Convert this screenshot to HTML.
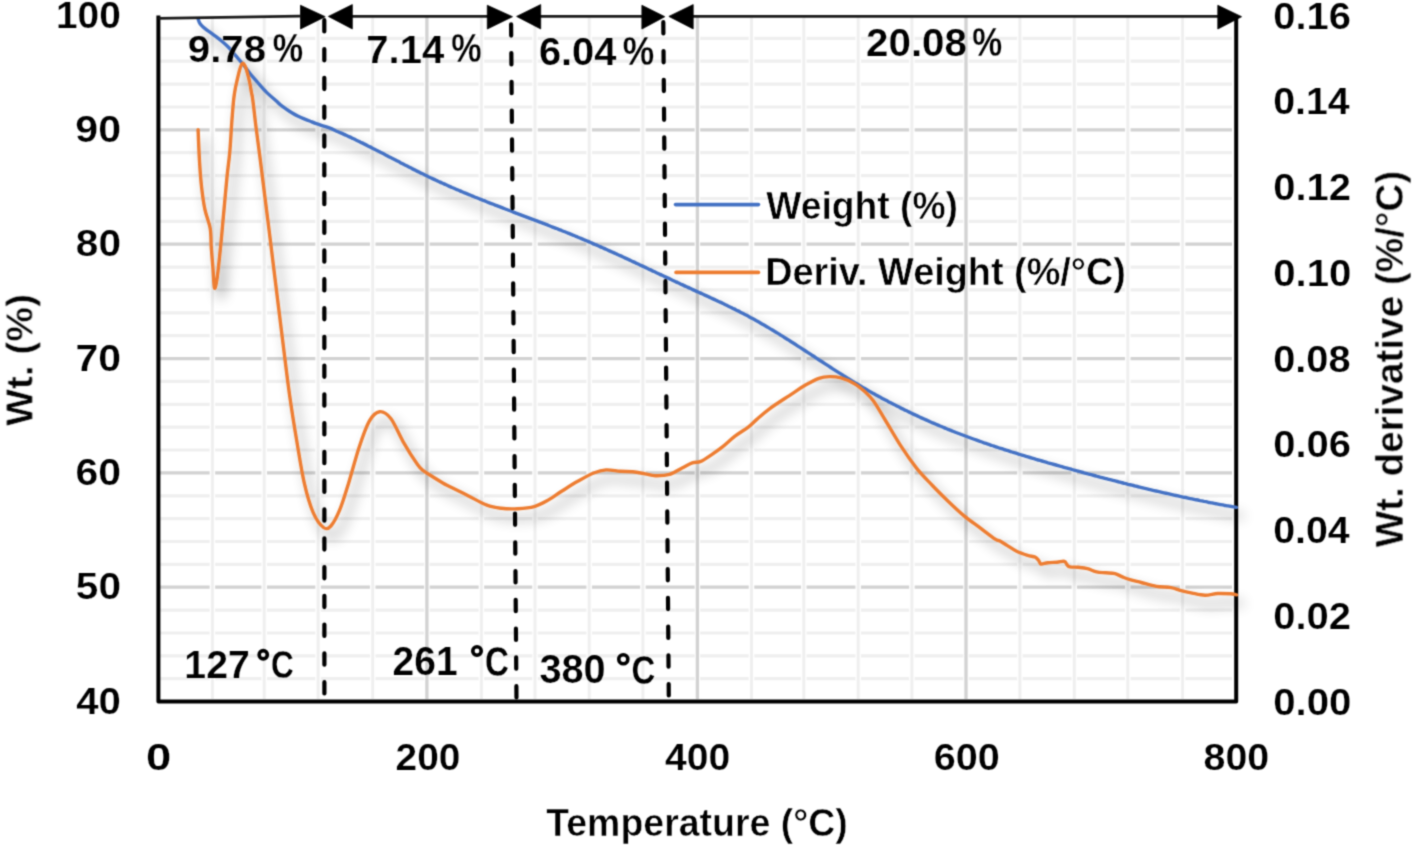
<!DOCTYPE html>
<html><head><meta charset="utf-8"><style>html,body{margin:0;padding:0;background:#fff;overflow:hidden}svg{display:block}</style></head>
<body>
<svg width="1413" height="846" viewBox="0 0 1413 846">
<defs>
<filter id="sh" x="-5%" y="-5%" width="112%" height="118%">
<feGaussianBlur in="SourceAlpha" stdDeviation="6.5"/>
<feOffset dx="6" dy="9" result="o"/>
<feComponentTransfer><feFuncA type="linear" slope="0.42"/></feComponentTransfer>
<feMerge><feMergeNode/><feMergeNode in="SourceGraphic"/></feMerge>
</filter>
<filter id="gb" x="0" y="0" width="1413" height="846" filterUnits="userSpaceOnUse" color-interpolation-filters="sRGB"><feConvolveMatrix order="3" kernelMatrix="0.03607 0.11778 0.03607 0.11778 0.38462 0.11778 0.03607 0.11778 0.03607" divisor="1" edgeMode="duplicate"/></filter>
</defs>
<rect width="1413" height="846" fill="#fff"/>
<g filter="url(#gb)">
<line x1="160" y1="678.7" x2="1232" y2="678.7" stroke="#efefef" stroke-width="3.2"/>
<line x1="160" y1="655.9" x2="1232" y2="655.9" stroke="#efefef" stroke-width="3.2"/>
<line x1="160" y1="633.0" x2="1232" y2="633.0" stroke="#efefef" stroke-width="3.2"/>
<line x1="160" y1="610.1" x2="1232" y2="610.1" stroke="#efefef" stroke-width="3.2"/>
<line x1="160" y1="564.4" x2="1232" y2="564.4" stroke="#efefef" stroke-width="3.2"/>
<line x1="160" y1="541.5" x2="1232" y2="541.5" stroke="#efefef" stroke-width="3.2"/>
<line x1="160" y1="518.6" x2="1232" y2="518.6" stroke="#efefef" stroke-width="3.2"/>
<line x1="160" y1="495.8" x2="1232" y2="495.8" stroke="#efefef" stroke-width="3.2"/>
<line x1="160" y1="450.0" x2="1232" y2="450.0" stroke="#efefef" stroke-width="3.2"/>
<line x1="160" y1="427.2" x2="1232" y2="427.2" stroke="#efefef" stroke-width="3.2"/>
<line x1="160" y1="404.3" x2="1232" y2="404.3" stroke="#efefef" stroke-width="3.2"/>
<line x1="160" y1="381.4" x2="1232" y2="381.4" stroke="#efefef" stroke-width="3.2"/>
<line x1="160" y1="335.7" x2="1232" y2="335.7" stroke="#efefef" stroke-width="3.2"/>
<line x1="160" y1="312.8" x2="1232" y2="312.8" stroke="#efefef" stroke-width="3.2"/>
<line x1="160" y1="289.9" x2="1232" y2="289.9" stroke="#efefef" stroke-width="3.2"/>
<line x1="160" y1="267.1" x2="1232" y2="267.1" stroke="#efefef" stroke-width="3.2"/>
<line x1="160" y1="221.3" x2="1232" y2="221.3" stroke="#efefef" stroke-width="3.2"/>
<line x1="160" y1="198.5" x2="1232" y2="198.5" stroke="#efefef" stroke-width="3.2"/>
<line x1="160" y1="175.6" x2="1232" y2="175.6" stroke="#efefef" stroke-width="3.2"/>
<line x1="160" y1="152.7" x2="1232" y2="152.7" stroke="#efefef" stroke-width="3.2"/>
<line x1="160" y1="107.0" x2="1232" y2="107.0" stroke="#efefef" stroke-width="3.2"/>
<line x1="160" y1="84.1" x2="1232" y2="84.1" stroke="#efefef" stroke-width="3.2"/>
<line x1="160" y1="61.2" x2="1232" y2="61.2" stroke="#efefef" stroke-width="3.2"/>
<line x1="160" y1="38.4" x2="1232" y2="38.4" stroke="#efefef" stroke-width="3.2"/>
<line x1="160" y1="587.2" x2="1232" y2="587.2" stroke="#d2d2d2" stroke-width="3.3"/>
<line x1="160" y1="472.9" x2="1232" y2="472.9" stroke="#d2d2d2" stroke-width="3.3"/>
<line x1="160" y1="358.6" x2="1232" y2="358.6" stroke="#d2d2d2" stroke-width="3.3"/>
<line x1="160" y1="244.2" x2="1232" y2="244.2" stroke="#d2d2d2" stroke-width="3.3"/>
<line x1="160" y1="129.9" x2="1232" y2="129.9" stroke="#d2d2d2" stroke-width="3.3"/>
<line x1="212.4" y1="18" x2="212.4" y2="698" stroke="#fff" stroke-width="5.5"/>
<line x1="212.4" y1="17" x2="212.4" y2="699" stroke="#efefef" stroke-width="3"/>
<line x1="264.2" y1="18" x2="264.2" y2="698" stroke="#fff" stroke-width="5.5"/>
<line x1="264.2" y1="17" x2="264.2" y2="699" stroke="#efefef" stroke-width="3"/>
<line x1="318.1" y1="18" x2="318.1" y2="698" stroke="#fff" stroke-width="5.5"/>
<line x1="318.1" y1="17" x2="318.1" y2="699" stroke="#efefef" stroke-width="3"/>
<line x1="372.7" y1="18" x2="372.7" y2="698" stroke="#fff" stroke-width="5.5"/>
<line x1="372.7" y1="17" x2="372.7" y2="699" stroke="#efefef" stroke-width="3"/>
<line x1="426.9" y1="18" x2="426.9" y2="698" stroke="#fff" stroke-width="5.5"/>
<line x1="426.9" y1="17" x2="426.9" y2="699" stroke="#d2d2d2" stroke-width="3.3"/>
<line x1="481.4" y1="18" x2="481.4" y2="698" stroke="#fff" stroke-width="5.5"/>
<line x1="481.4" y1="17" x2="481.4" y2="699" stroke="#efefef" stroke-width="3"/>
<line x1="535.0" y1="18" x2="535.0" y2="698" stroke="#fff" stroke-width="5.5"/>
<line x1="535.0" y1="17" x2="535.0" y2="699" stroke="#efefef" stroke-width="3"/>
<line x1="589.2" y1="18" x2="589.2" y2="698" stroke="#fff" stroke-width="5.5"/>
<line x1="589.2" y1="17" x2="589.2" y2="699" stroke="#efefef" stroke-width="3"/>
<line x1="642.9" y1="18" x2="642.9" y2="698" stroke="#fff" stroke-width="5.5"/>
<line x1="642.9" y1="17" x2="642.9" y2="699" stroke="#efefef" stroke-width="3"/>
<line x1="697.4" y1="18" x2="697.4" y2="698" stroke="#fff" stroke-width="5.5"/>
<line x1="697.4" y1="17" x2="697.4" y2="699" stroke="#d2d2d2" stroke-width="3.3"/>
<line x1="751.5" y1="18" x2="751.5" y2="698" stroke="#fff" stroke-width="5.5"/>
<line x1="751.5" y1="17" x2="751.5" y2="699" stroke="#efefef" stroke-width="3"/>
<line x1="803.8" y1="18" x2="803.8" y2="698" stroke="#fff" stroke-width="5.5"/>
<line x1="803.8" y1="17" x2="803.8" y2="699" stroke="#efefef" stroke-width="3"/>
<line x1="858.2" y1="18" x2="858.2" y2="698" stroke="#fff" stroke-width="5.5"/>
<line x1="858.2" y1="17" x2="858.2" y2="699" stroke="#efefef" stroke-width="3"/>
<line x1="911.9" y1="18" x2="911.9" y2="698" stroke="#fff" stroke-width="5.5"/>
<line x1="911.9" y1="17" x2="911.9" y2="699" stroke="#efefef" stroke-width="3"/>
<line x1="966.0" y1="18" x2="966.0" y2="698" stroke="#fff" stroke-width="5.5"/>
<line x1="966.0" y1="17" x2="966.0" y2="699" stroke="#d2d2d2" stroke-width="3.3"/>
<line x1="1019.9" y1="18" x2="1019.9" y2="698" stroke="#fff" stroke-width="5.5"/>
<line x1="1019.9" y1="17" x2="1019.9" y2="699" stroke="#efefef" stroke-width="3"/>
<line x1="1074.3" y1="18" x2="1074.3" y2="698" stroke="#fff" stroke-width="5.5"/>
<line x1="1074.3" y1="17" x2="1074.3" y2="699" stroke="#efefef" stroke-width="3"/>
<line x1="1127.8" y1="18" x2="1127.8" y2="698" stroke="#fff" stroke-width="5.5"/>
<line x1="1127.8" y1="17" x2="1127.8" y2="699" stroke="#efefef" stroke-width="3"/>
<line x1="1182.6" y1="18" x2="1182.6" y2="698" stroke="#fff" stroke-width="5.5"/>
<line x1="1182.6" y1="17" x2="1182.6" y2="699" stroke="#efefef" stroke-width="3"/>
<path d="M158.4,15.5 V701.6 H1236.2 V17" fill="none" stroke="#000" stroke-width="4" stroke-linejoin="round"/>
<g filter="url(#sh)" fill="none" stroke-width="3.4" stroke-linejoin="round" stroke-linecap="round">
<path d="M198.3,19.5 C198.5,20.0 198.9,21.4 199.4,22.4 C199.9,23.4 200.5,24.3 201.5,25.4 C202.5,26.5 203.4,27.3 205.4,28.9 C207.4,30.5 210.8,32.7 213.6,34.8 C216.3,36.9 219.3,39.1 221.9,41.3 C224.5,43.5 226.6,45.3 229.0,47.8 C231.4,50.3 233.9,53.6 236.1,56.1 C238.3,58.6 239.7,60.1 242.0,63.0 C244.3,65.9 247.4,70.2 250.0,73.5 C252.6,76.8 254.9,79.3 257.7,82.5 C260.5,85.7 263.6,89.5 266.6,92.4 C269.6,95.4 273.3,98.2 275.5,100.2 C277.7,102.2 278.3,103.0 280.0,104.5 C281.7,106.0 283.9,107.5 285.9,108.9 C287.9,110.3 289.8,111.5 291.8,112.7 C293.8,113.9 295.7,115.0 297.7,116.0 C299.7,117.0 301.6,117.8 303.6,118.6 C305.6,119.4 307.6,120.2 309.6,121.0 C311.6,121.8 313.5,122.7 315.5,123.4 C317.5,124.1 319.0,124.6 321.4,125.4 C323.8,126.2 327.6,127.2 330.0,128.1 C332.4,129.0 334.3,130.2 336.0,131.0 C337.7,131.7 338.7,132.1 340.0,132.7 C341.3,133.2 342.7,133.8 344.0,134.4 C345.3,135.0 346.7,135.6 348.0,136.2 C349.3,136.8 350.7,137.4 352.0,138.1 C353.3,138.7 354.7,139.3 356.0,140.0 C357.3,140.6 358.7,141.3 360.0,141.9 C361.3,142.6 362.7,143.2 364.0,143.9 C365.3,144.5 366.7,145.2 368.0,145.9 C369.3,146.6 370.7,147.2 372.0,147.9 C373.3,148.6 374.7,149.3 376.0,150.0 C377.3,150.6 378.7,151.3 380.0,152.0 C381.3,152.7 382.7,153.4 384.0,154.1 C385.3,154.8 386.7,155.5 388.0,156.2 C389.3,156.9 390.7,157.6 392.0,158.3 C393.3,158.9 394.7,159.6 396.0,160.3 C397.3,161.0 398.7,161.7 400.0,162.4 C401.3,163.1 402.7,163.8 404.0,164.5 C405.3,165.2 406.7,165.8 408.0,166.5 C409.3,167.2 410.7,167.9 412.0,168.6 C413.3,169.2 414.7,169.9 416.0,170.6 C417.3,171.2 418.7,171.9 420.0,172.6 C421.3,173.2 422.7,173.9 424.0,174.5 C425.3,175.2 426.7,175.8 428.0,176.5 C429.3,177.1 430.7,177.8 432.0,178.4 C433.3,179.0 434.7,179.6 436.0,180.3 C437.3,180.9 438.7,181.5 440.0,182.1 C441.3,182.7 442.7,183.3 444.0,183.9 C445.3,184.5 446.7,185.1 448.0,185.7 C449.3,186.3 450.7,186.9 452.0,187.5 C453.3,188.0 454.7,188.6 456.0,189.2 C457.3,189.8 458.7,190.3 460.0,190.9 C461.3,191.5 462.7,192.0 464.0,192.6 C465.3,193.1 466.7,193.7 468.0,194.2 C469.3,194.8 470.7,195.3 472.0,195.9 C473.3,196.4 474.7,197.0 476.0,197.5 C477.3,198.0 478.7,198.6 480.0,199.1 C481.3,199.6 482.7,200.2 484.0,200.7 C485.3,201.2 486.7,201.8 488.0,202.3 C489.3,202.8 490.7,203.3 492.0,203.8 C493.3,204.4 494.7,204.9 496.0,205.4 C497.3,205.9 498.7,206.4 500.0,206.9 C501.3,207.5 502.7,208.0 504.0,208.5 C505.3,209.0 506.7,209.5 508.0,210.0 C509.3,210.5 510.7,211.0 512.0,211.5 C513.3,212.0 514.7,212.5 516.0,213.1 C517.3,213.6 518.7,214.1 520.0,214.6 C521.3,215.1 522.7,215.6 524.0,216.1 C525.3,216.6 526.7,217.1 528.0,217.6 C529.3,218.1 530.7,218.6 532.0,219.1 C533.3,219.6 534.7,220.1 536.0,220.6 C537.3,221.1 538.7,221.7 540.0,222.2 C541.3,222.7 542.7,223.2 544.0,223.7 C545.3,224.2 546.7,224.7 548.0,225.2 C549.3,225.8 550.7,226.3 552.0,226.8 C553.3,227.3 554.7,227.8 556.0,228.3 C557.3,228.9 558.7,229.4 560.0,229.9 C561.3,230.4 562.7,231.0 564.0,231.5 C565.3,232.0 566.7,232.6 568.0,233.1 C569.3,233.6 570.7,234.2 572.0,234.7 C573.3,235.3 574.7,235.8 576.0,236.4 C577.3,236.9 578.7,237.5 580.0,238.0 C581.3,238.6 582.7,239.1 584.0,239.7 C585.3,240.3 586.7,240.8 588.0,241.4 C589.3,242.0 590.7,242.5 592.0,243.1 C593.3,243.7 594.7,244.3 596.0,244.8 C597.3,245.4 598.7,246.0 600.0,246.6 C601.3,247.2 602.7,247.8 604.0,248.4 C605.3,249.0 606.7,249.6 608.0,250.2 C609.3,250.8 610.7,251.4 612.0,252.0 C613.3,252.6 614.7,253.2 616.0,253.8 C617.3,254.4 618.7,255.0 620.0,255.6 C621.3,256.3 622.7,256.9 624.0,257.5 C625.3,258.1 626.7,258.7 628.0,259.3 C629.3,260.0 630.7,260.6 632.0,261.2 C633.3,261.8 634.7,262.4 636.0,263.1 C637.3,263.7 638.7,264.3 640.0,265.0 C641.3,265.6 642.7,266.2 644.0,266.8 C645.3,267.5 646.7,268.1 648.0,268.7 C649.3,269.3 650.7,270.0 652.0,270.6 C653.3,271.2 654.7,271.9 656.0,272.5 C657.3,273.1 658.7,273.7 660.0,274.4 C661.3,275.0 662.7,275.6 664.0,276.2 C665.3,276.9 666.7,277.5 668.0,278.1 C669.3,278.8 670.7,279.4 672.0,280.0 C673.3,280.6 674.7,281.2 676.0,281.9 C677.3,282.5 678.7,283.1 680.0,283.7 C681.3,284.3 682.7,285.0 684.0,285.6 C685.3,286.2 686.7,286.8 688.0,287.4 C689.3,288.0 690.7,288.6 692.0,289.2 C693.3,289.9 694.7,290.5 696.0,291.1 C697.3,291.7 698.7,292.3 700.0,292.9 C701.3,293.5 702.7,294.1 704.0,294.7 C705.3,295.3 706.7,295.9 708.0,296.5 C709.3,297.2 710.7,297.8 712.0,298.4 C713.3,299.0 714.7,299.6 716.0,300.3 C717.3,300.9 718.7,301.5 720.0,302.1 C721.3,302.8 722.7,303.4 724.0,304.0 C725.3,304.7 726.7,305.3 728.0,306.0 C729.3,306.6 730.7,307.3 732.0,307.9 C733.3,308.6 734.7,309.2 736.0,309.9 C737.3,310.6 738.7,311.2 740.0,311.9 C741.3,312.6 742.7,313.3 744.0,314.0 C745.3,314.7 746.7,315.4 748.0,316.1 C749.3,316.8 750.7,317.5 752.0,318.3 C753.3,319.0 754.7,319.7 756.0,320.5 C757.3,321.2 758.7,322.0 760.0,322.7 C761.3,323.5 762.7,324.3 764.0,325.0 C765.3,325.8 766.7,326.6 768.0,327.4 C769.3,328.2 770.7,329.0 772.0,329.8 C773.3,330.6 774.7,331.4 776.0,332.2 C777.3,333.0 778.7,333.8 780.0,334.7 C781.3,335.5 782.7,336.3 784.0,337.2 C785.3,338.0 786.7,338.9 788.0,339.7 C789.3,340.6 790.7,341.4 792.0,342.3 C793.3,343.1 794.7,344.0 796.0,344.8 C797.3,345.7 798.7,346.6 800.0,347.4 C801.3,348.3 802.7,349.2 804.0,350.0 C805.3,350.9 806.7,351.8 808.0,352.6 C809.3,353.5 810.7,354.4 812.0,355.3 C813.3,356.1 814.7,357.0 816.0,357.9 C817.3,358.8 818.7,359.6 820.0,360.5 C821.3,361.4 822.7,362.2 824.0,363.1 C825.3,364.0 826.7,364.8 828.0,365.7 C829.3,366.6 830.7,367.4 832.0,368.3 C833.3,369.2 834.7,370.0 836.0,370.9 C837.3,371.7 838.7,372.6 840.0,373.4 C841.3,374.3 842.7,375.1 844.0,375.9 C845.3,376.8 846.7,377.6 848.0,378.4 C849.3,379.3 850.7,380.1 852.0,380.9 C853.3,381.7 854.7,382.5 856.0,383.3 C857.3,384.1 858.7,384.9 860.0,385.7 C861.3,386.5 862.7,387.3 864.0,388.1 C865.3,388.8 866.7,389.6 868.0,390.4 C869.3,391.1 870.7,391.9 872.0,392.7 C873.3,393.4 874.7,394.2 876.0,394.9 C877.3,395.6 878.7,396.4 880.0,397.1 C881.3,397.8 882.7,398.5 884.0,399.3 C885.3,400.0 886.7,400.7 888.0,401.4 C889.3,402.1 890.7,402.8 892.0,403.5 C893.3,404.2 894.7,404.9 896.0,405.5 C897.3,406.2 898.7,406.9 900.0,407.6 C901.3,408.2 902.7,408.9 904.0,409.6 C905.3,410.2 906.7,410.9 908.0,411.5 C909.3,412.2 910.7,412.8 912.0,413.4 C913.3,414.1 914.7,414.7 916.0,415.3 C917.3,416.0 918.7,416.6 920.0,417.2 C921.3,417.8 922.7,418.4 924.0,419.0 C925.3,419.6 926.7,420.2 928.0,420.8 C929.3,421.4 930.7,422.0 932.0,422.6 C933.3,423.1 934.7,423.7 936.0,424.3 C937.3,424.9 938.7,425.4 940.0,426.0 C941.3,426.5 942.7,427.1 944.0,427.6 C945.3,428.2 946.7,428.7 948.0,429.3 C949.3,429.8 950.7,430.3 952.0,430.9 C953.3,431.4 954.7,431.9 956.0,432.5 C957.3,433.0 958.7,433.5 960.0,434.0 C961.3,434.5 962.7,435.0 964.0,435.5 C965.3,436.0 966.7,436.5 968.0,437.0 C969.3,437.5 970.7,438.0 972.0,438.5 C973.3,439.0 974.7,439.5 976.0,439.9 C977.3,440.4 978.7,440.9 980.0,441.4 C981.3,441.8 982.7,442.3 984.0,442.8 C985.3,443.2 986.7,443.7 988.0,444.1 C989.3,444.6 990.7,445.0 992.0,445.5 C993.3,445.9 994.7,446.4 996.0,446.8 C997.3,447.3 998.7,447.7 1000.0,448.2 C1001.3,448.6 1002.7,449.0 1004.0,449.5 C1005.3,449.9 1006.7,450.3 1008.0,450.7 C1009.3,451.2 1010.7,451.6 1012.0,452.0 C1013.3,452.4 1014.7,452.8 1016.0,453.2 C1017.3,453.7 1018.7,454.1 1020.0,454.5 C1021.3,454.9 1022.7,455.3 1024.0,455.7 C1025.3,456.1 1026.7,456.5 1028.0,456.9 C1029.3,457.3 1030.7,457.7 1032.0,458.1 C1033.3,458.5 1034.7,458.9 1036.0,459.3 C1037.3,459.7 1038.7,460.1 1040.0,460.4 C1041.3,460.8 1042.7,461.2 1044.0,461.6 C1045.3,462.0 1046.7,462.4 1048.0,462.8 C1049.3,463.1 1050.7,463.5 1052.0,463.9 C1053.3,464.3 1054.7,464.7 1056.0,465.0 C1057.3,465.4 1058.7,465.8 1060.0,466.2 C1061.3,466.5 1062.7,466.9 1064.0,467.3 C1065.3,467.7 1066.7,468.0 1068.0,468.4 C1069.3,468.8 1070.7,469.1 1072.0,469.5 C1073.3,469.9 1074.7,470.2 1076.0,470.6 C1077.3,471.0 1078.7,471.3 1080.0,471.7 C1081.3,472.1 1082.7,472.4 1084.0,472.8 C1085.3,473.1 1086.7,473.5 1088.0,473.9 C1089.3,474.2 1090.7,474.6 1092.0,474.9 C1093.3,475.3 1094.7,475.7 1096.0,476.0 C1097.3,476.4 1098.7,476.7 1100.0,477.1 C1101.3,477.4 1102.7,477.8 1104.0,478.1 C1105.3,478.5 1106.7,478.8 1108.0,479.2 C1109.3,479.5 1110.7,479.9 1112.0,480.2 C1113.3,480.5 1114.7,480.9 1116.0,481.2 C1117.3,481.6 1118.7,481.9 1120.0,482.2 C1121.3,482.6 1122.7,482.9 1124.0,483.3 C1125.3,483.6 1126.7,483.9 1128.0,484.3 C1129.3,484.6 1130.7,484.9 1132.0,485.2 C1133.3,485.6 1134.7,485.9 1136.0,486.2 C1137.3,486.6 1138.7,486.9 1140.0,487.2 C1141.3,487.5 1142.7,487.8 1144.0,488.2 C1145.3,488.5 1146.7,488.8 1148.0,489.1 C1149.3,489.4 1150.7,489.8 1152.0,490.1 C1153.3,490.4 1154.7,490.7 1156.0,491.0 C1157.3,491.3 1158.7,491.6 1160.0,491.9 C1161.3,492.2 1162.7,492.5 1164.0,492.8 C1165.3,493.1 1166.7,493.4 1168.0,493.7 C1169.3,494.0 1170.7,494.3 1172.0,494.6 C1173.3,494.9 1174.7,495.2 1176.0,495.5 C1177.3,495.8 1178.7,496.1 1180.0,496.4 C1181.3,496.7 1182.7,497.0 1184.0,497.3 C1185.3,497.5 1186.7,497.8 1188.0,498.1 C1189.3,498.4 1190.7,498.7 1192.0,498.9 C1193.3,499.2 1194.7,499.5 1196.0,499.8 C1197.3,500.0 1198.7,500.3 1200.0,500.6 C1201.3,500.8 1202.7,501.1 1204.0,501.4 C1205.3,501.6 1206.7,501.9 1208.0,502.2 C1209.3,502.4 1210.7,502.7 1212.0,502.9 C1213.3,503.2 1214.7,503.5 1216.0,503.7 C1217.3,504.0 1218.7,504.2 1220.0,504.5 C1221.3,504.7 1222.7,504.9 1224.0,505.2 C1225.3,505.4 1226.7,505.7 1228.0,505.9 C1229.3,506.2 1230.7,506.4 1232.0,506.6 C1233.3,506.9 1235.3,507.2 1236.0,507.3 C1236.7,507.4 1236.2,507.4 1236.2,507.4" stroke="#4472C4"/>
<path d="M198.1,129.6 C198.3,135.1 199.0,152.8 199.6,162.6 C200.2,172.3 200.8,180.3 201.7,188.1 C202.6,195.9 203.5,202.7 204.9,209.4 C206.3,216.1 209.1,222.1 210.2,228.5 C211.3,234.9 210.8,241.0 211.3,247.7 C211.8,254.4 212.5,262.2 213.0,268.9 C213.5,275.6 213.8,286.7 214.5,288.1 C215.2,289.5 216.2,284.1 217.2,277.4 C218.2,270.7 219.4,258.4 220.5,247.7 C221.6,237.0 222.6,224.8 223.7,213.0 C224.8,201.2 226.0,187.2 227.0,177.0 C228.0,166.8 229.1,160.1 229.8,151.9 C230.5,143.7 231.0,134.5 231.4,128.0 C231.8,121.5 232.1,117.9 232.5,113.0 C232.9,108.1 233.3,102.7 233.8,98.5 C234.3,94.3 234.8,91.2 235.4,88.0 C236.0,84.8 236.6,82.5 237.3,79.5 C238.0,76.5 238.8,72.7 239.6,70.0 C240.4,67.3 241.4,64.0 242.4,63.4 C243.4,62.8 244.4,64.6 245.3,66.5 C246.2,68.4 247.1,72.1 247.9,75.0 C248.7,77.9 249.4,81.0 250.0,84.0 C250.6,87.0 251.0,90.0 251.5,92.7 C252.0,95.4 252.1,94.3 252.8,100.0 C253.6,105.7 254.8,117.5 256.0,127.0 C257.2,136.4 258.1,142.3 259.9,156.7 C261.7,171.1 264.6,194.6 267.0,213.5 C269.4,232.4 271.4,249.1 274.0,270.2 C276.6,291.3 280.0,319.3 282.6,340.0 C285.2,360.7 287.1,377.5 289.5,394.5 C291.9,411.5 294.4,427.0 296.9,441.8 C299.4,456.6 301.6,471.4 304.3,483.2 C307.0,495.0 310.0,505.3 313.2,512.7 C316.4,520.1 320.6,525.3 323.5,527.5 C326.4,529.7 328.2,529.0 330.9,526.0 C333.6,523.0 336.9,516.8 339.8,509.7 C342.8,502.6 345.4,493.5 348.6,483.2 C351.8,472.9 355.6,458.0 359.0,447.7 C362.4,437.4 365.9,427.1 369.3,421.1 C372.7,415.1 376.0,412.1 379.6,411.7 C383.2,411.3 386.9,413.5 390.8,418.5 C394.7,423.5 398.8,434.1 403.2,441.8 C407.6,449.5 414.1,459.7 417.5,464.5 C420.9,469.3 421.5,469.1 423.5,470.8 C425.5,472.5 426.2,472.7 429.5,474.8 C432.8,476.9 439.8,481.2 443.2,483.2 C446.6,485.2 445.8,484.6 450.0,486.7 C454.2,488.8 462.4,492.8 468.5,495.9 C474.6,499.0 481.4,503.1 486.9,505.2 C492.4,507.3 496.2,507.7 501.3,508.3 C506.4,508.9 512.2,509.0 517.7,508.7 C523.2,508.4 529.4,507.9 534.2,506.6 C539.0,505.3 542.1,503.6 546.5,501.1 C550.9,498.6 555.7,495.1 560.8,491.8 C565.9,488.6 571.8,484.7 577.3,481.6 C582.8,478.5 588.9,474.9 593.7,473.0 C598.5,471.1 601.5,470.2 606.0,469.9 C610.5,469.6 615.9,471.0 620.4,471.3 C624.9,471.6 628.6,471.3 632.7,471.7 C636.8,472.1 641.2,473.1 645.0,473.8 C648.8,474.5 651.2,475.7 655.3,475.8 C659.4,475.9 665.1,475.7 669.6,474.4 C674.1,473.1 678.3,469.8 682.1,467.9 C685.9,466.0 689.2,463.9 692.3,462.8 C695.4,461.7 697.7,462.7 700.8,461.4 C703.9,460.1 707.3,457.6 711.0,455.1 C714.7,452.6 718.8,449.7 722.8,446.6 C726.8,443.5 730.5,439.6 734.7,436.4 C739.0,433.1 744.6,429.9 748.3,427.1 C752.0,424.3 753.3,422.4 756.8,419.4 C760.3,416.3 764.1,412.7 769.5,408.8 C774.9,404.9 782.9,399.8 789.0,395.8 C795.1,391.8 800.9,387.7 805.9,384.8 C810.9,381.9 815.0,379.7 818.9,378.3 C822.8,376.9 825.6,376.7 829.3,376.6 C833.0,376.5 836.9,376.8 841.0,377.9 C845.1,379.0 850.1,381.3 854.0,383.5 C857.9,385.7 861.1,388.4 864.4,391.3 C867.6,394.2 870.0,396.2 873.5,401.0 C877.0,405.8 880.6,412.5 885.2,420.0 C889.8,427.5 895.8,438.1 901.0,446.2 C906.2,454.3 911.5,461.8 916.7,468.4 C921.9,474.9 927.2,480.0 932.4,485.5 C937.6,491.0 942.9,496.2 948.1,501.2 C953.3,506.2 958.6,511.2 963.8,515.6 C969.0,520.0 974.3,523.5 979.5,527.4 C984.7,531.3 991.8,536.8 995.2,539.1 C998.6,541.4 998.0,539.9 1000.0,541.0 C1002.0,542.1 1004.6,543.9 1007.4,545.6 C1010.2,547.3 1013.2,549.6 1016.6,551.2 C1020.0,552.8 1024.5,554.3 1027.6,555.3 C1030.7,556.3 1033.2,556.2 1035.0,557.1 C1036.8,558.0 1037.6,559.2 1038.6,560.4 C1039.6,561.5 1039.4,563.6 1040.9,564.0 C1042.4,564.4 1045.1,563.0 1047.8,562.7 C1050.5,562.4 1054.2,562.4 1057.0,562.2 C1059.8,562.0 1062.7,560.8 1064.4,561.3 C1066.1,561.8 1066.3,564.1 1067.2,565.0 C1068.1,565.9 1068.1,566.4 1069.9,566.8 C1071.7,567.2 1075.3,567.0 1078.2,567.3 C1081.1,567.6 1084.3,567.8 1087.4,568.6 C1090.5,569.4 1093.5,571.2 1096.6,571.9 C1099.7,572.6 1102.7,572.5 1105.8,572.8 C1108.9,573.1 1112.2,573.0 1115.0,573.7 C1117.8,574.4 1119.9,575.9 1122.4,576.9 C1124.9,577.9 1126.9,578.8 1130.0,579.7 C1133.1,580.6 1136.8,581.4 1141.2,582.5 C1145.6,583.6 1151.5,585.4 1156.5,586.3 C1161.5,587.1 1166.9,586.9 1171.0,587.6 C1175.1,588.3 1177.6,589.7 1181.1,590.6 C1184.6,591.5 1188.2,592.3 1192.2,593.1 C1196.2,593.9 1200.7,595.1 1204.9,595.2 C1209.2,595.3 1213.5,593.7 1217.7,593.5 C1222.0,593.3 1227.3,593.6 1230.4,593.8 C1233.5,594.0 1235.5,594.6 1236.5,594.8" stroke="#ED7D31"/>
</g>
<line x1="324.3" y1="20.2" x2="324.4" y2="697" stroke="#000" stroke-width="4.2" stroke-dasharray="11.30 17.48" stroke-linecap="round"/>
<line x1="511.1" y1="24.3" x2="516.5" y2="701" stroke="#000" stroke-width="4.2" stroke-dasharray="11.30 17.48" stroke-linecap="round"/>
<line x1="663.3" y1="22.2" x2="668.8" y2="699" stroke="#000" stroke-width="4.2" stroke-dasharray="11.30 17.48" stroke-linecap="round"/>
<path d="M158.4,18.4 L300,16.2 M352,16.3 H488 M540,16.3 H642 M693,16.3 H1218" stroke="#1a1a1a" stroke-width="2.8" fill="none"/>
<path d="M300.5,5.3 L325.2,16.7 L300.5,29.0 Z" fill="#000" stroke="#000" stroke-width="0.8" stroke-linejoin="round"/>
<path d="M352.3,4.6 L328.4,16.4 L352.3,28.9 Z" fill="#000" stroke="#000" stroke-width="0.8" stroke-linejoin="round"/>
<path d="M487.3,5.3 L512.5,16.7 L487.3,29.0 Z" fill="#000" stroke="#000" stroke-width="0.8" stroke-linejoin="round"/>
<path d="M540.7,4.6 L516.6,16.4 L540.7,28.9 Z" fill="#000" stroke="#000" stroke-width="0.8" stroke-linejoin="round"/>
<path d="M641.9,5.3 L664.8,16.7 L641.9,29.0 Z" fill="#000" stroke="#000" stroke-width="0.8" stroke-linejoin="round"/>
<path d="M693.2,4.6 L668.9,16.4 L693.2,28.9 Z" fill="#000" stroke="#000" stroke-width="0.8" stroke-linejoin="round"/>
<path d="M1217.8,5.3 L1241.6,16.7 L1217.8,29.0 Z" fill="#000" stroke="#000" stroke-width="0.8" stroke-linejoin="round"/>
<line x1="675.5" y1="204.6" x2="758.5" y2="204.6" stroke="#4472C4" stroke-width="3.6" stroke-linecap="round"/>
<line x1="676" y1="272.4" x2="758.5" y2="272.4" stroke="#ED7D31" stroke-width="3.6" stroke-linecap="round"/>
<g font-family='"Liberation Sans", sans-serif' font-weight="bold" fill="#000">
<text transform="translate(56.05,27.74) scale(1.0251,1)" font-size="37.80" stroke="#fff" stroke-width="0.24" vector-effect="non-scaling-stroke">100</text>
<text transform="translate(75.34,142.09) scale(1.0848,1)" font-size="37.80" stroke="#fff" stroke-width="0.24" vector-effect="non-scaling-stroke">90</text>
<text transform="translate(75.86,256.44) scale(1.0719,1)" font-size="37.80" stroke="#fff" stroke-width="0.24" vector-effect="non-scaling-stroke">80</text>
<text transform="translate(75.44,370.79) scale(1.0823,1)" font-size="37.80" stroke="#fff" stroke-width="0.24" vector-effect="non-scaling-stroke">70</text>
<text transform="translate(75.44,485.14) scale(1.0823,1)" font-size="37.80" stroke="#fff" stroke-width="0.24" vector-effect="non-scaling-stroke">60</text>
<text transform="translate(75.86,599.49) scale(1.0719,1)" font-size="37.80" stroke="#fff" stroke-width="0.24" vector-effect="non-scaling-stroke">50</text>
<text transform="translate(76.28,713.84) scale(1.0616,1)" font-size="37.80" stroke="#fff" stroke-width="0.24" vector-effect="non-scaling-stroke">40</text>
<text transform="translate(1273.17,714.64) scale(1.0630,1)" font-size="37.80" stroke="#fff" stroke-width="0.24" vector-effect="non-scaling-stroke">0.00</text>
<text transform="translate(1273.18,628.88) scale(1.0573,1)" font-size="37.80" stroke="#fff" stroke-width="0.24" vector-effect="non-scaling-stroke">0.02</text>
<text transform="translate(1273.21,543.12) scale(1.0406,1)" font-size="37.80" stroke="#fff" stroke-width="0.24" vector-effect="non-scaling-stroke">0.04</text>
<text transform="translate(1273.18,457.35) scale(1.0573,1)" font-size="37.80" stroke="#fff" stroke-width="0.24" vector-effect="non-scaling-stroke">0.06</text>
<text transform="translate(1273.19,371.59) scale(1.0516,1)" font-size="37.80" stroke="#fff" stroke-width="0.24" vector-effect="non-scaling-stroke">0.08</text>
<text transform="translate(1273.17,285.83) scale(1.0630,1)" font-size="37.80" stroke="#fff" stroke-width="0.24" vector-effect="non-scaling-stroke">0.10</text>
<text transform="translate(1273.18,200.07) scale(1.0573,1)" font-size="37.80" stroke="#fff" stroke-width="0.24" vector-effect="non-scaling-stroke">0.12</text>
<text transform="translate(1273.21,114.30) scale(1.0406,1)" font-size="37.80" stroke="#fff" stroke-width="0.24" vector-effect="non-scaling-stroke">0.14</text>
<text transform="translate(1273.18,28.54) scale(1.0573,1)" font-size="37.80" stroke="#fff" stroke-width="0.24" vector-effect="non-scaling-stroke">0.16</text>
<text transform="translate(145.91,769.94) scale(1.2011,1)" font-size="37.80" stroke="#fff" stroke-width="0.24" vector-effect="non-scaling-stroke">0</text>
<text transform="translate(395.61,769.94) scale(1.0274,1)" font-size="37.80" stroke="#fff" stroke-width="0.24" vector-effect="non-scaling-stroke">200</text>
<text transform="translate(665.05,769.94) scale(1.0341,1)" font-size="37.80" stroke="#fff" stroke-width="0.24" vector-effect="non-scaling-stroke">400</text>
<text transform="translate(933.70,769.94) scale(1.0471,1)" font-size="37.80" stroke="#fff" stroke-width="0.24" vector-effect="non-scaling-stroke">600</text>
<text transform="translate(1203.55,769.94) scale(1.0406,1)" font-size="37.80" stroke="#fff" stroke-width="0.24" vector-effect="non-scaling-stroke">800</text>
<text transform="translate(546.18,836.05) scale(0.9684,1)" font-size="38.70" stroke="#fff" stroke-width="0.50" vector-effect="non-scaling-stroke">Temperature (°C)</text>
<text transform="translate(32.45,425.85) rotate(-90) scale(1.0290,1)" font-size="37.83" stroke="#fff" stroke-width="0.50" vector-effect="non-scaling-stroke">Wt. (%)</text>
<text transform="translate(1402.85,547.35) rotate(-90) scale(1.0036,1)" font-size="38.55" stroke="#fff" stroke-width="0.50" vector-effect="non-scaling-stroke">Wt. derivative (%/°C)</text>
<text transform="translate(187.87,62.44) scale(1.0629,1)" font-size="37.80" stroke="#fff" stroke-width="0.24" vector-effect="non-scaling-stroke">9.78</text>
<text transform="translate(272.86,62.42) scale(0.8434,1)" font-size="40.49" stroke="#fff" stroke-width="0.24" vector-effect="non-scaling-stroke">%</text>
<text transform="translate(366.28,62.52) scale(1.0419,1)" font-size="38.46" stroke="#fff" stroke-width="0.24" vector-effect="non-scaling-stroke">7.14</text>
<text transform="translate(451.26,62.12) scale(0.8524,1)" font-size="40.06" stroke="#fff" stroke-width="0.24" vector-effect="non-scaling-stroke">%</text>
<text transform="translate(538.89,65.04) scale(1.0376,1)" font-size="38.37" stroke="#fff" stroke-width="0.24" vector-effect="non-scaling-stroke">6.04</text>
<text transform="translate(622.82,65.01) scale(0.8610,1)" font-size="41.06" stroke="#fff" stroke-width="0.24" vector-effect="non-scaling-stroke">%</text>
<text transform="translate(866.07,56.43) scale(1.0466,1)" font-size="38.51" stroke="#fff" stroke-width="0.24" vector-effect="non-scaling-stroke">20.08</text>
<text transform="translate(972.17,56.41) scale(0.8171,1)" font-size="41.20" stroke="#fff" stroke-width="0.24" vector-effect="non-scaling-stroke">%</text>
<text transform="translate(184.32,677.92) scale(0.9906,1)" font-size="39.63" stroke="#fff" stroke-width="0.24" vector-effect="non-scaling-stroke">127</text>
<text transform="translate(270.92,678.03) scale(0.8117,1)" font-size="38.93" stroke="#fff" stroke-width="0.24" vector-effect="non-scaling-stroke">C</text>
<circle cx="263.25" cy="654.75" r="4.10" fill="none" stroke="#000" stroke-width="3.6"/>
<text transform="translate(392.51,675.31) scale(0.9609,1)" font-size="40.62" stroke="#fff" stroke-width="0.24" vector-effect="non-scaling-stroke">261</text>
<text transform="translate(485.05,675.90) scale(0.7965,1)" font-size="41.61" stroke="#fff" stroke-width="0.24" vector-effect="non-scaling-stroke">C</text>
<circle cx="477.00" cy="651.05" r="4.23" fill="none" stroke="#000" stroke-width="3.6"/>
<text transform="translate(539.39,682.81) scale(0.9743,1)" font-size="40.76" stroke="#fff" stroke-width="0.24" vector-effect="non-scaling-stroke">380</text>
<text transform="translate(631.46,683.51) scale(0.7955,1)" font-size="41.46" stroke="#fff" stroke-width="0.24" vector-effect="non-scaling-stroke">C</text>
<circle cx="623.30" cy="659.25" r="4.53" fill="none" stroke="#000" stroke-width="3.6"/>
<text transform="translate(766.15,219.15) scale(0.9421,1)" font-size="39.57" stroke="#fff" stroke-width="0.50" vector-effect="non-scaling-stroke">Weight (%)</text>
<text transform="translate(765.20,284.75) scale(0.9899,1)" font-size="38.26" stroke="#fff" stroke-width="0.50" vector-effect="non-scaling-stroke">Deriv. Weight (%/°C)</text>
</g>
</g>
</svg>
</body></html>
